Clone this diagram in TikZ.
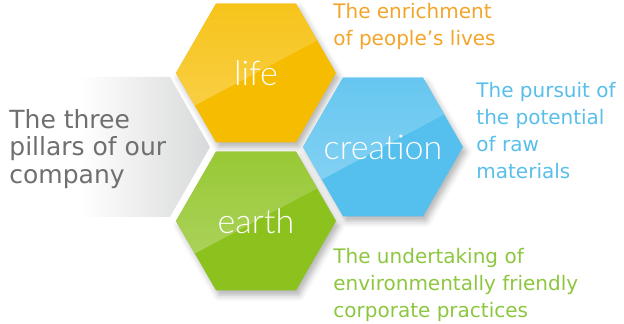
\documentclass[tikz,border=0pt]{standalone}
\usepackage{fontspec}
\usepackage{xcolor}
\usepackage{tikz}
\usetikzlibrary{shapes.geometric, shadows.blur, positioning}
\newfontfamily\notefont{DejaVu Sans}
\newfontfamily\hexfont{Lato Light}
\definecolor{lifecol}{HTML}{F6BD00}
\definecolor{creationcol}{HTML}{55C0EE}
\definecolor{earthcol}{HTML}{8CC21E}
\definecolor{lifetext}{HTML}{F3A52A}
\definecolor{creationtext}{HTML}{58BEEA}
\definecolor{earthtext}{HTML}{8DC63F}
\definecolor{pillartext}{HTML}{6F6F6F}
\definecolor{pillargray}{HTML}{D8D9DA}
\pgfdeclarehorizontalshading{pillarfade}{100bp}{color(0bp)=(white); color(44bp)=(white); color(75bp)=(pillargray); color(100bp)=(pillargray)}
\tikzset{
    pillar/.style={regular polygon, regular polygon sides=6, minimum size=80pt, inner sep=0pt,
        fill=#1,
        blur shadow={shadow xshift=1.5pt, shadow yshift=-2.5pt, shadow blur radius=3pt, shadow opacity=30},
        path picture={
            \shade[shift={(path picture bounding box.center)}, shading angle=28, top color=#1, bottom color=#1!68!white]
                (208:120) -- (28:120) -- ++(118:90) -- ++(208:240) -- cycle;
        }},
    pillarlabel/.style={text=white, inner sep=0pt, font=\hexfont\fontsize{17}{17}\selectfont},
    note/.style={anchor=north west, align=left, inner sep=0pt, font=\notefont\fontsize{10}{13.5}\selectfont},
}
\begin{document}
\begin{tikzpicture}[x=0.5pt, y=0.5pt]
                 \useasboundingbox (0,0) rectangle (624,324);

                 % grey arrow behind the text
                 \shade[shading=pillarfade] (0,247) -- (170,247) -- (210,177) -- (170,107) -- (0,107) -- cycle;
                 \node[note, font=\notefont\fontsize{12.5}{13.75}\selectfont, text=pillartext] (pillars) at (9,215) {The three\\pillars of our\\company};

                 % the three hexagons
                 \node[pillar=lifecol, label={[pillarlabel]center:life}] (life) at (256,251) {};
                 \node[pillar=creationcol, label={[pillarlabel]center:creation}] (creation) at (383,177) {};
                 \node[pillar=earthcol, label={[pillarlabel]center:earth}] (earth) at (256,103) {};

                 \node[note, text=lifetext] (lifenote) at (333,321) {The enrichment\\of people’s lives};
                 \node[note, text=creationtext] (creationnote) at (476,242) {The pursuit of\\the potential\\of raw\\materials};
                 \node[note, text=earthtext] (earthnote) at (333,76) {The undertaking of\\environmentally friendly\\corporate practices};

                 \end{tikzpicture}
\end{document}
